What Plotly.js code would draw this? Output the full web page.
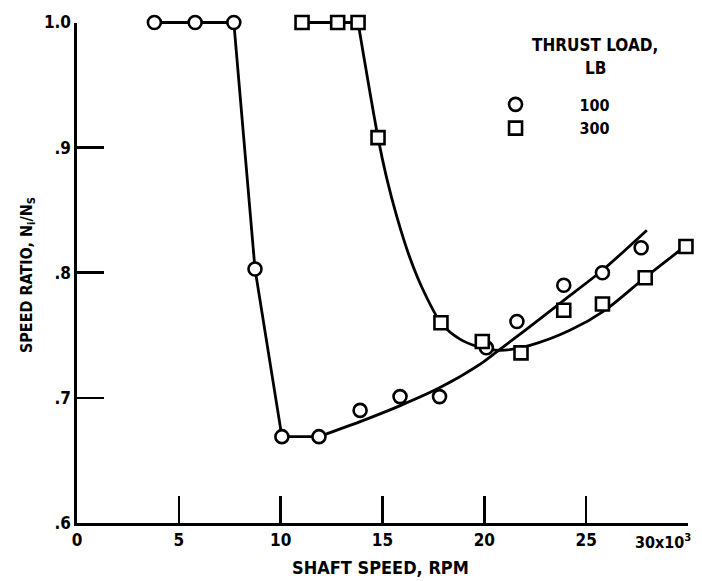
<!DOCTYPE html>
<html>
<head>
<meta charset="utf-8">
<script src="https://cdn.plot.ly/plotly-3.0.1.min.js"></script>
<style>html,body{margin:0;padding:0;background:#fff;}#chart{width:702px;height:581px;}</style>
</head>
<body>
<div id="chart"></div>
<script>
// Measured points, thrust load 100 lb (circles)
const load100_speed = [3.8, 5.8, 7.7, 8.74, 10.06, 11.88, 13.9, 15.86, 17.8, 20.1, 21.6, 23.9, 25.8, 27.7];
const load100_ratio = [1.0, 1.0, 1.0, 0.803, 0.669, 0.669, 0.690, 0.701, 0.701, 0.740, 0.761, 0.790, 0.800, 0.820];
// Measured points, thrust load 300 lb (squares)
const load300_speed = [11.05, 12.8, 13.8, 14.78, 17.87, 19.9, 21.8, 23.9, 25.8, 27.9, 29.9];
const load300_ratio = [1.0, 1.0, 1.0, 0.908, 0.760, 0.745, 0.736, 0.770, 0.775, 0.796, 0.821];

// Faired curves
const fit100a_speed = [3.8, 7.7, 8.74, 10.06, 11.88];
const fit100a_ratio = [1.0, 1.0, 0.803, 0.669, 0.669];
const fit100b_speed = [11.88, 13.9, 15.9, 17.8, 19.8, 20.62, 22.0, 23.9, 25.8, 27.98];
const fit100b_ratio = [0.669, 0.681, 0.694, 0.708, 0.727, 0.737, 0.754, 0.778, 0.802, 0.834];
const fit300a_speed = [11.05, 13.8];
const fit300a_ratio = [1.0, 1.0];
const fit300b_speed = [13.8, 14.78, 15.2, 15.7, 16.3, 17.0, 17.87, 18.8, 19.69, 20.77, 22.24, 24.2, 25.92, 27.88, 29.85];
const fit300b_ratio = [1.0, 0.908, 0.876, 0.845, 0.814, 0.786, 0.760, 0.747, 0.741, 0.738, 0.742, 0.754, 0.770, 0.796, 0.821];

const seriesNames = ['100', '300'];
const xTickVals = [0, 5, 10, 15, 20, 25, 30];
const xTickText = ['0', '5', '10', '15', '20', '25', ''];
const xLastLabel = '30x10<sup>3</sup>';
const yTickVals = [0.6, 0.7, 0.8, 0.9, 1.0];
const yTickText = ['.6', '.7', '.8', '.9', '1.0'];

const FONT = 'DejaVu Sans Condensed, DejaVu Sans, sans-serif';
const lineStyle = {color: '#000', width: 2.8};
const f = (s) => ({family: FONT, size: s, color: '#000', weight: 'bold'});

// Plot geometry: visible axes are 500.5 px tall; a hidden twin y-axis spans a slightly taller
// region with the same scale so that lines at the top value are not clipped.
const PLOT_H = 513, AXIS_H = 500.5;
const yMin = 0.6, yMax = 1.0;
const yMax2 = yMin + (yMax - yMin) * PLOT_H / AXIS_H;

const curve = (xs, ys, shape, sm) => ({x: xs, y: ys, xaxis: 'x', yaxis: 'y2', mode: 'lines',
  line: Object.assign({shape: shape, smoothing: sm}, lineStyle), showlegend: false, hoverinfo: 'skip'});

const traces = [
  // empty trace so the visible axes' subplot is created
  {x: [], y: [], xaxis: 'x', yaxis: 'y', mode: 'markers', showlegend: false, hoverinfo: 'skip'},
  curve(fit100a_speed, fit100a_ratio, 'linear', 1),
  curve(fit100b_speed, fit100b_ratio, 'spline', 0.8),
  curve(fit300a_speed, fit300a_ratio, 'linear', 1),
  curve(fit300b_speed, fit300b_ratio, 'spline', 0.8),
  {x: load100_speed, y: load100_ratio, xaxis: 'x', yaxis: 'y2', name: seriesNames[0], mode: 'markers', cliponaxis: false,
   marker: {symbol: 'circle', size: 13, color: '#fff', line: {color: '#000', width: 2.6}}},
  {x: load300_speed, y: load300_ratio, xaxis: 'x', yaxis: 'y2', name: seriesNames[1], mode: 'markers', cliponaxis: false,
   marker: {symbol: 'square', size: 13, color: '#fff', line: {color: '#000', width: 2.6}}}
];

const layout = {
  width: 702, height: 581,
  margin: {l: 77, r: 14, t: 10, b: 58},
  paper_bgcolor: '#fff', plot_bgcolor: 'rgba(0,0,0,0)',
  font: f(18),
  showlegend: true,
  legend: {x: 0.613, y: 0.849, xanchor: 'left', yanchor: 'top', bgcolor: 'rgba(0,0,0,0)', borderwidth: 0,
           itemwidth: 118, font: f(16)},
  xaxis: {range: [0, 30], showgrid: false, zeroline: false, showline: true, linecolor: '#000', linewidth: 2.6,
          anchor: 'y',
          ticks: 'inside', ticklen: 27, tickwidth: 2.6, tickcolor: '#000',
          tickmode: 'array', tickvals: xTickVals, ticktext: xTickText,
          tickfont: f(17), fixedrange: true},
  yaxis: {range: [yMin, yMax], domain: [0, AXIS_H / PLOT_H], showgrid: false, zeroline: false, showline: true,
          linecolor: '#000', linewidth: 2.6, anchor: 'x',
          ticks: 'inside', ticklen: 27, tickwidth: 2.6, tickcolor: '#000',
          tickmode: 'array', tickvals: yTickVals, ticktext: yTickText,
          tickfont: f(17), fixedrange: true},
  yaxis2: {range: [yMin, yMax2], domain: [0, 1], visible: false, anchor: 'x', fixedrange: true},
  annotations: [
    {text: 'SHAFT SPEED, RPM', xref: 'paper', yref: 'paper', x: 0.496, y: -0.0877, showarrow: false,
     xanchor: 'center', yanchor: 'middle', font: f(18)},
    {text: 'SPEED RATIO, N<sub>i</sub>/N<sub>S</sub>', xref: 'paper', yref: 'paper', x: -0.082, y: 0.483, showarrow: false,
     textangle: -90, xanchor: 'center', yanchor: 'middle', font: f(16)},
    {text: xLastLabel, xref: 'x', yref: 'paper', x: 30, y: -0.037, xshift: 5, showarrow: false,
     xanchor: 'right', yanchor: 'middle', font: f(16)},
    {text: 'THRUST LOAD,', xref: 'paper', yref: 'paper', x: 0.848, y: 0.932, showarrow: false,
     xanchor: 'center', yanchor: 'middle', font: f(17)},
    {text: 'LB', xref: 'paper', yref: 'paper', x: 0.848, y: 0.887, showarrow: false,
     xanchor: 'center', yanchor: 'middle', font: f(17)}
  ]
};

Plotly.newPlot('chart', traces, layout, {displayModeBar: false, staticPlot: true});
</script>
</body>
</html>
